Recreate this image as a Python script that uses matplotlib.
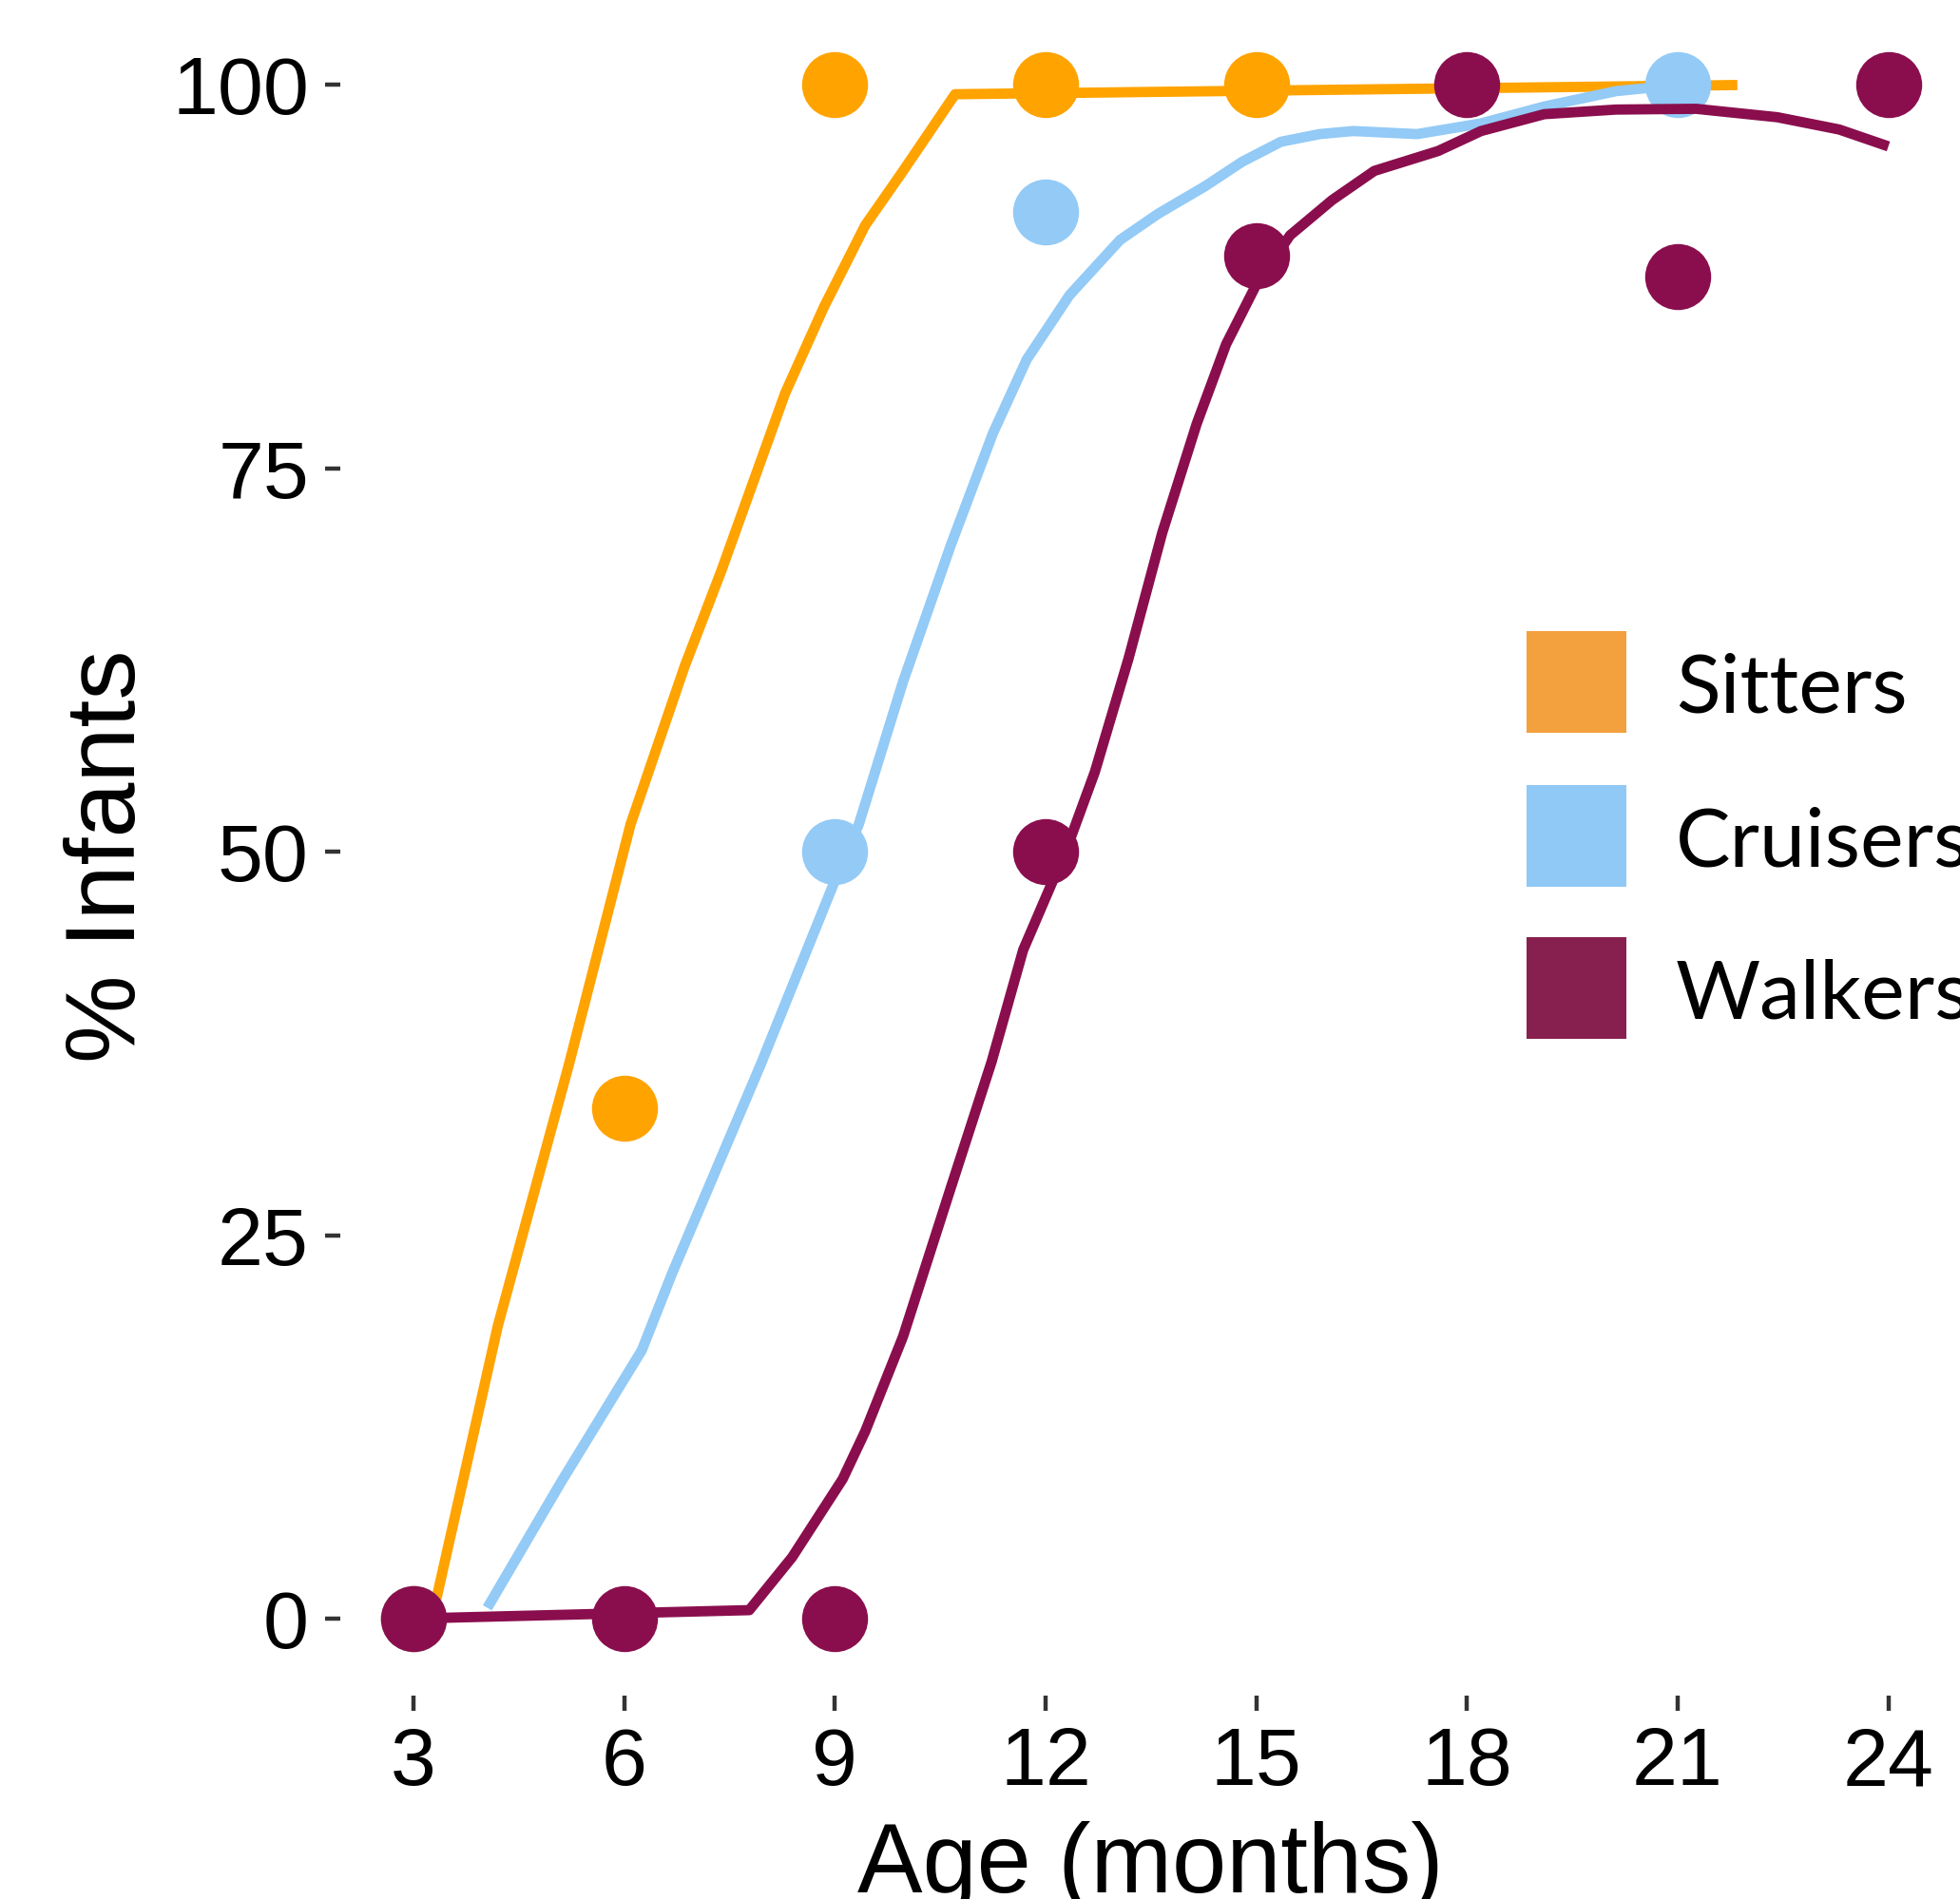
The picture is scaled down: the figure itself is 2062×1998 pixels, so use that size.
import matplotlib
matplotlib.use('Agg')
import matplotlib.pyplot as plt
from matplotlib.patches import Rectangle

plt.rcParams['font.family'] = ['Liberation Sans', 'DejaVu Sans']

# observed proportions at each visit
groups = ['Sitters', 'Cruisers', 'Walkers']

sit_age = [3, 6, 9, 12, 15]
sit_pct = [0, 33.3, 100, 100, 100]
cru_age = [3, 9, 12, 21]
cru_pct = [0, 50, 91.7, 100]
walk_age = [3, 6, 9, 12, 15, 18, 21, 24]
walk_pct = [0, 0, 0, 50, 88.9, 100, 87.5, 100]

# fitted curves
sit_fit_age = [3.25, 3.32, 4.2, 5.21, 6.09, 6.86, 7.38, 8.29, 8.84, 9.43, 9.97, 10.37, 10.71, 21.85]
sit_fit_pct = [0, 1.2, 19.1, 36.1, 51.8, 62.1, 68.3, 79.9, 85.5, 90.85, 94.4, 97.1, 99.4, 100]
cru_fit_age = [4.05, 5.1, 6.25, 6.68, 7.94, 8.98, 9.34, 9.97, 10.65, 11.25, 11.73, 12.34, 13.06,
               13.6, 14.27, 14.8, 15.35, 15.9, 16.38, 17.29, 18.2, 19.1, 20.12, 21.0]
cru_fit_pct = [0.7, 8.9, 17.5, 22.5, 36.1, 47.9, 51.8, 61.1, 70.0, 77.3, 82.1, 86.3, 89.9,
               91.6, 93.4, 95.0, 96.3, 96.8, 97.0, 96.8, 97.5, 98.6, 99.6, 100]
walk_fit_age = [3, 7.78, 8.39, 9.11, 9.43, 9.97, 10.65, 11.23, 11.68, 12.13, 12.34, 12.7, 13.18, 13.66,
                14.15, 14.57, 14.99, 15.48, 16.08, 16.68, 17.59, 18.2, 19.1, 20.12, 21.26, 22.42, 23.3, 24.0]
walk_fit_pct = [0, 0.55, 4.0, 9.1, 12.2, 18.4, 28.1, 36.3, 43.6, 48.4, 50.7, 55.2, 62.6, 70.8,
                77.9, 83.1, 86.9, 90.2, 92.5, 94.4, 95.7, 97.0, 98.1, 98.4, 98.45, 97.9, 97.1, 96.0]

x_ticks = [3, 6, 9, 12, 15, 18, 21, 24]
y_ticks = [0, 25, 50, 75, 100]

line_colors = ['#FFA300', '#93CAF6', '#8A0E4D']
key_colors = ['#F3A03F', '#90C9F6', '#88204F']

fig = plt.figure(figsize=(20.62, 19.98), dpi=100)
ax = fig.add_axes([0.1734, 0.1073, 1 - 0.1734, 0.9956 - 0.1073])

series = [
    (sit_age, sit_pct, sit_fit_age, sit_fit_pct),
    (cru_age, cru_pct, cru_fit_age, cru_fit_pct),
    (walk_age, walk_pct, walk_fit_age, walk_fit_pct),
]
for (age, pct, fit_age, fit_pct), col in zip(series, line_colors):
    ax.plot(fit_age, fit_pct, color=col, lw=7.8, solid_capstyle='butt', solid_joinstyle='round')
    ax.plot(age, pct, 'o', color=col, ms=50, mec='none')

ax.set_xlim(1.95, 25.02)
ax.set_ylim(-5, 105)
ax.set_xticks(x_ticks)
ax.set_yticks(y_ticks)
ax.tick_params(length=11.5, width=3.2, color='#333333', pad=12, labelsize=62, labelcolor='black')
for s in ax.spines.values():
    s.set_visible(False)

fig.text(0.5868, 0.0035, 'Age (months)', fontsize=74, ha='center', va='baseline')
fig.text(0.0689, 0.549, '% Infants', fontsize=75, ha='center', va='baseline',
         rotation=90, rotation_mode='anchor')

# legend keys and labels
key_tops = [664, 826, 986]
for name, col, top in zip(groups, key_colors, key_tops):
    fig.add_artist(Rectangle((1606 / 2062, 1 - (top + 107) / 1998), 105 / 2062, 107 / 1998,
                             transform=fig.transFigure, color=col, lw=0))
    fig.text(1763 / 2062, 1 - (top + 86) / 1998, name, fontsize=62, family='Lato',
             ha='left', va='baseline')

fig.savefig('out.png', dpi=100)
